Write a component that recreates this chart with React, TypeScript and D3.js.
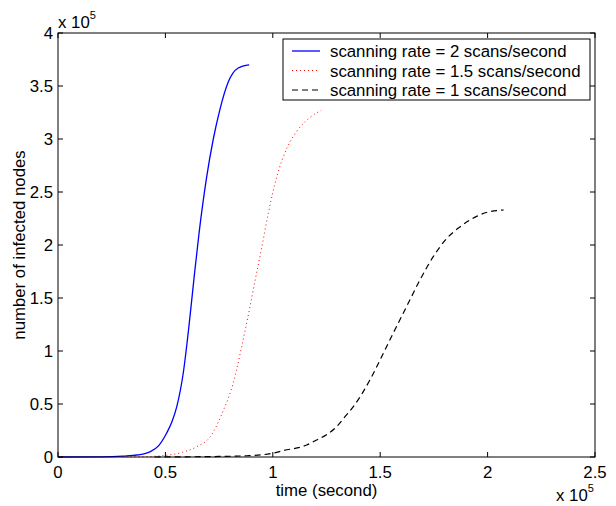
import React from "react";
import * as d3 from "d3";

// values in units of 1e5 (as shown by the "x 10^5" multipliers)
const xTicks = [0, 0.5, 1, 1.5, 2, 2.5];
const yTicks = [0, 0.5, 1, 1.5, 2, 2.5, 3, 3.5, 4];
const xTickLabels = ["0", "0.5", "1", "1.5", "2", "2.5"];
const yTickLabels = ["0", "0.5", "1", "1.5", "2", "2.5", "3", "3.5", "4"];

const rate2T = [0, 0.2, 0.3, 0.35, 0.4, 0.43, 0.47, 0.506, 0.53, 0.553, 0.583, 0.611, 0.635, 0.656, 0.692, 0.723, 0.754, 0.793, 0.839, 0.89];
const rate2Y = [0, 0.002, 0.008, 0.015, 0.03, 0.05, 0.11, 0.226, 0.33, 0.475, 0.79, 1.26, 1.72, 2.1, 2.64, 3.0, 3.28, 3.54, 3.67, 3.7];

const rate15T = [0.3, 0.4, 0.5, 0.58, 0.646, 0.708, 0.77, 0.816, 0.855, 0.894, 0.917, 0.948, 0.979, 1.018, 1.065, 1.111, 1.165, 1.225];
const rate15Y = [0, 0.003, 0.015, 0.045, 0.097, 0.19, 0.44, 0.7, 1.04, 1.42, 1.66, 1.97, 2.3, 2.64, 2.91, 3.07, 3.19, 3.27];

const rate1T = [0.45, 0.6, 0.75, 0.88, 1.0, 1.049, 1.158, 1.204, 1.25, 1.297, 1.336, 1.375, 1.452, 1.515, 1.561, 1.623, 1.685, 1.747, 1.809, 1.871, 1.949, 2.0, 2.075];
const rate1Y = [0, 0.002, 0.005, 0.012, 0.035, 0.06, 0.113, 0.16, 0.21, 0.286, 0.38, 0.475, 0.726, 0.98, 1.17, 1.42, 1.67, 1.89, 2.06, 2.17, 2.27, 2.31, 2.33];

const seriesNames = [
  "scanning rate = 2 scans/second",
  "scanning rate = 1.5 scans/second",
  "scanning rate = 1 scans/second",
];

const W = 616;
const H = 506;
const L = 58, R = 595, T = 33, B = 457;
const FONT = "Liberation Sans, Arial, Helvetica, sans-serif";
const FS = 16.8;

export default function App() {
  const x = d3.scaleLinear().domain([0, 2.5]).range([L, R]);
  const y = d3.scaleLinear().domain([0, 4]).range([B, T]);
  const line = d3
    .line<[number, number]>()
    .x((d) => x(d[0]))
    .y((d) => y(d[1]))
    .curve(d3.curveMonotoneX);
  const zip = (a: number[], b: number[]) => a.map((v, i) => [v, b[i]] as [number, number]);
  const series = [
    { d: zip(rate2T, rate2Y), stroke: "#0000ff", dash: undefined as string | undefined, w: 1.3 },
    { d: zip(rate15T, rate15Y), stroke: "#ff0000", dash: "1,3", w: 1 },
    { d: zip(rate1T, rate1Y), stroke: "#000000", dash: "6,4", w: 1.2 },
  ];
  const tl = 5;
  return (
    <svg width={W} height={H} style={{ position: "absolute", left: 0, top: 0, background: "#fff" }} fontFamily={FONT}>
      <rect x={0} y={0} width={W} height={H} fill="#fff" />
      {series.map((s, i) => (
        <path key={i} d={line(s.d) || ""} fill="none" stroke={s.stroke} strokeWidth={s.w} strokeDasharray={s.dash} />
      ))}
      {/* box */}
      <rect x={L} y={T} width={R - L} height={B - T} fill="none" stroke="#000" strokeWidth={1} />
      {xTicks.map((t, i) => (
        <g key={"xt" + i}>
          <line x1={x(t)} x2={x(t)} y1={B} y2={B - tl} stroke="#000" />
          <line x1={x(t)} x2={x(t)} y1={T} y2={T + tl} stroke="#000" />
          <text x={x(t)} y={B + 21} fontSize={FS} textAnchor="middle" fill="#000">
            {xTickLabels[i]}
          </text>
        </g>
      ))}
      {yTicks.map((t, i) => (
        <g key={"yt" + i}>
          <line x1={L} x2={L + tl} y1={y(t)} y2={y(t)} stroke="#000" />
          <line x1={R} x2={R - tl} y1={y(t)} y2={y(t)} stroke="#000" />
          <text x={L - 5} y={y(t) + 6} fontSize={FS} textAnchor="end" fill="#000">
            {yTickLabels[i]}
          </text>
        </g>
      ))}
      {/* multipliers */}
      <text x={58} y={28} fontSize={FS} fill="#000">
        x 10<tspan fontSize={11} dy={-9}>5</tspan>
      </text>
      <text x={556} y={501} fontSize={FS} fill="#000">
        x 10<tspan fontSize={11} dy={-9}>5</tspan>
      </text>
      {/* axis labels */}
      <text x={(L + R) / 2} y={496} fontSize={FS} textAnchor="middle" fill="#000">
        time (second)
      </text>
      <text transform={`translate(25,${(T + B) / 2}) rotate(-90)`} fontSize={FS} textAnchor="middle" fill="#000">
        number of infected nodes
      </text>
      {/* legend */}
      <rect x={283} y={39} width={307} height={61} fill="#fff" stroke="#000" strokeWidth={1} />
      {series.map((s, i) => (
        <g key={"lg" + i}>
          <line x1={292} x2={320} y1={51 + i * 19.5} y2={51 + i * 19.5} stroke={s.stroke} strokeWidth={s.w} strokeDasharray={s.dash} />
          <text x={330} y={51 + i * 19.5 + 6} fontSize={FS} fill="#000">
            {seriesNames[i]}
          </text>
        </g>
      ))}
    </svg>
  );
}
